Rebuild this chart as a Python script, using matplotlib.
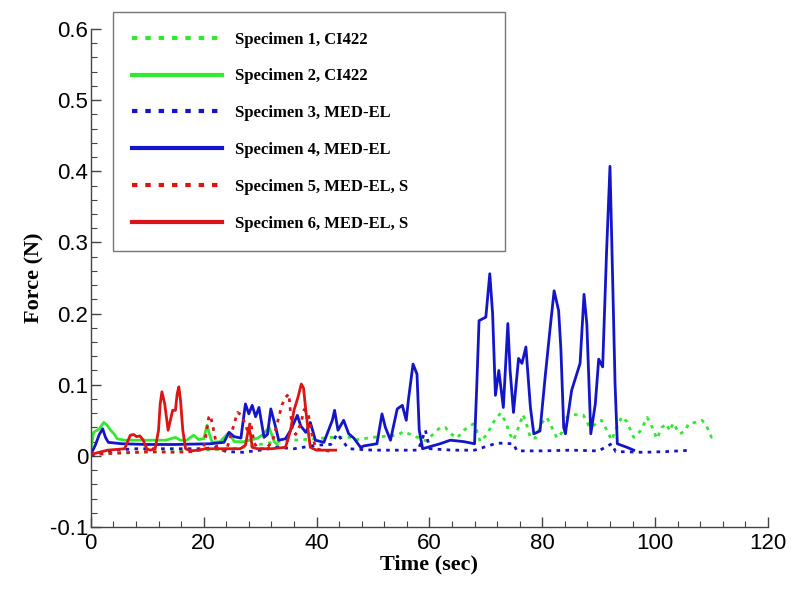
import matplotlib
matplotlib.use("Agg")
import matplotlib.pyplot as plt
from matplotlib.ticker import MultipleLocator

# Specimen 1, CI422 (green dotted)
t1 = [0, 5, 10, 15, 20, 25, 28, 30, 33, 36, 40, 42.5, 46, 46.6, 50, 54.3, 55.4, 57.6,
      59.4, 60.6, 61.9, 62.8, 64, 64.9, 66.1, 67.8, 68.4, 69, 70.2, 71.4, 72.6, 73.5,
      74.3, 74.9, 75.8, 76.6, 77.3, 77.9, 78.8, 80, 80.8, 81.7, 82.6, 83.5, 84.4, 85.5,
      87.3, 88.4, 89.6, 90.5, 91.3, 92.3, 93.1, 94.1, 95, 96.2, 97.4, 98.6, 99.5, 100.3,
      101.2, 102, 102.6, 103.2, 103.8, 104.4, 105.3, 105.9, 107.1, 108.3, 108.9, 109.5,
      110, 111]
f1 = [0.002, 0.004, 0.005, 0.006, 0.008, 0.01, 0.013, 0.016, 0.02, 0.022, 0.024, 0.026,
      0.026, 0.022, 0.026, 0.029, 0.034, 0.027, 0.021, 0.03, 0.04, 0.04, 0.03, 0.025,
      0.036, 0.045, 0.035, 0.02, 0.03, 0.048, 0.06, 0.048, 0.03, 0.022, 0.04, 0.058,
      0.042, 0.025, 0.025, 0.047, 0.054, 0.04, 0.025, 0.033, 0.055, 0.058, 0.057, 0.04,
      0.045, 0.05, 0.038, 0.022, 0.038, 0.055, 0.048, 0.026, 0.035, 0.054, 0.04, 0.024,
      0.04, 0.045, 0.035, 0.046, 0.038, 0.031, 0.035, 0.045, 0.047, 0.05, 0.045, 0.035,
      0.026, 0.028]

# Specimen 2, CI422 (green solid)
t2 = [0, 0.5, 1.5, 2.3, 2.9, 3.5, 4.1, 4.7, 6, 8, 10, 13.3, 15, 15.9, 17, 18.2, 19.1,
      20, 20.6, 21, 21.5, 22.9, 24.5, 25.4, 27.2, 29.6, 30.5, 31.6, 32.5, 33.1]
f2 = [0.008, 0.033, 0.038, 0.047, 0.043, 0.036, 0.031, 0.024, 0.022, 0.022, 0.022,
      0.022, 0.026, 0.022, 0.022, 0.029, 0.023, 0.024, 0.043, 0.031, 0.019, 0.02, 0.033,
      0.02, 0.02, 0.025, 0.03, 0.04, 0.02, 0.015]

# Specimen 3, MED-EL (blue dotted)
t3 = [0, 2, 4, 8, 12, 16, 20, 22, 24, 27, 30, 33, 36, 40, 42.5, 43.7, 44.5, 45.7, 50,
      55, 58, 59.3, 59.7, 60.1, 64, 68, 72, 74.9, 75.5, 80, 85, 90, 92.3, 93, 98, 102,
      106.5]
f3 = [0, 0.005, 0.008, 0.01, 0.01, 0.01, 0.01, 0.012, 0.006, 0.005, 0.008, 0.012, 0.01,
      0.015, 0.016, 0.031, 0.022, 0.01, 0.008, 0.008, 0.008, 0.036, 0.022, 0.01, 0.008,
      0.008, 0.018, 0.017, 0.007, 0.007, 0.008, 0.007, 0.017, 0.006, 0.005, 0.006, 0.008]

# Specimen 4, MED-EL (blue solid)
t4 = [0, 0.8, 1.5, 2.1, 2.6, 3.1, 5.5, 10, 15, 21.2, 23.6, 24.5, 25.4, 26.6, 27.4, 28.0,
      28.6, 29.2, 29.8, 30.7, 31.3, 31.9, 32.6, 33.3, 34.5, 35.4, 36.6, 37.2, 38.1, 38.9,
      39.8, 41.3, 42.8, 43.2, 43.8, 44.8, 45.7, 46.6, 47.8, 48.4, 50.7, 51.6, 52.2, 53.1,
      54.3, 55.2, 55.9, 56.3, 57.1, 57.8, 58.2, 58.8, 60.1, 61.9, 63.7, 66.1, 68.0, 68.4,
      68.8, 70, 70.7, 71.2, 71.7, 72.3, 73.1, 73.9, 74.3, 74.9, 75.8, 76.4, 77.1, 77.9,
      78.5, 79.6, 80.5, 81.4, 82.1, 82.9, 83.3, 83.8, 84.1, 85.2, 86.7, 87.4, 87.9, 88.6,
      89.4, 90.0, 90.7, 91.4, 92.0, 92.3, 92.9, 93.3, 95.0, 96.2]
f4 = [0.002, 0.015, 0.03, 0.038, 0.026, 0.019, 0.017, 0.016, 0.016, 0.017, 0.019, 0.033,
      0.027, 0.025, 0.073, 0.059, 0.071, 0.055, 0.068, 0.026, 0.03, 0.066, 0.045, 0.022,
      0.024, 0.036, 0.057, 0.042, 0.033, 0.047, 0.022, 0.019, 0.05, 0.064, 0.036, 0.05,
      0.031, 0.025, 0.012, 0.014, 0.017, 0.059, 0.04, 0.022, 0.066, 0.071, 0.05, 0.08,
      0.129, 0.115, 0.036, 0.01, 0.013, 0.017, 0.022, 0.02, 0.017, 0.1, 0.19, 0.195,
      0.256, 0.2, 0.085, 0.12, 0.068, 0.186, 0.12, 0.061, 0.137, 0.13, 0.153, 0.068,
      0.031, 0.035, 0.11, 0.18, 0.232, 0.204, 0.15, 0.04, 0.031, 0.092, 0.13, 0.227,
      0.185, 0.031, 0.073, 0.136, 0.125, 0.288, 0.407, 0.307, 0.101, 0.017, 0.012, 0.008]

# Specimen 5, MED-EL, S (red dotted)
t5 = [0, 5, 10, 15, 18, 20, 20.9, 21.2, 21.8, 22.4, 24, 25.4, 26, 26.6, 27.2, 27.8,
      28.3, 28.9, 29.5, 31, 32.2, 33.3, 33.9, 34.5, 35.1, 35.4, 35.7, 36.3, 37.2, 37.8,
      38.5, 39.2, 39.9, 41, 43]
f5 = [0.002, 0.004, 0.006, 0.005, 0.006, 0.01, 0.054, 0.057, 0.035, 0.01, 0.007, 0.045,
      0.061, 0.058, 0.048, 0.035, 0.048, 0.02, 0.01, 0.01, 0.02, 0.054, 0.072, 0.082,
      0.087, 0.06, 0.038, 0.03, 0.045, 0.065, 0.06, 0.03, 0.01, 0.008, 0.006]

# Specimen 6, MED-EL, S (red solid)
t6 = [0, 3, 6, 7, 7.6, 8.1, 8.7, 9.3, 9.9, 10.5, 11.4, 12.0, 12.3, 12.6, 13.1, 13.7,
      14.1, 14.5, 15.0, 15.3, 15.6, 15.9, 16.3, 16.8, 17.7, 19.1, 20.3, 22.5, 26.5, 27.4,
      28, 28.3, 28.6, 29.5, 32, 34.5, 35.4, 36, 36.7, 37.3, 37.7, 38.1, 38.6, 38.9, 40,
      41.7, 43.4]
f6 = [0.002, 0.008, 0.01, 0.029, 0.03, 0.027, 0.028, 0.022, 0.01, 0.008, 0.01, 0.036,
      0.073, 0.09, 0.073, 0.036, 0.05, 0.064, 0.064, 0.087, 0.097, 0.078, 0.036, 0.01,
      0.007, 0.008, 0.01, 0.01, 0.01, 0.015, 0.04, 0.03, 0.012, 0.01, 0.01, 0.012, 0.036,
      0.064, 0.082, 0.101, 0.095, 0.064, 0.03, 0.012, 0.008, 0.008, 0.008]

labels = ["Specimen 1, CI422", "Specimen 2, CI422", "Specimen 3, MED-EL",
          "Specimen 4, MED-EL", "Specimen 5, MED-EL, S", "Specimen 6, MED-EL, S"]

green = "#33e833"
blue = "#1414c8"
red = "#dc1414"
dot = (0, (1.3, 1.9))

fig = plt.figure(figsize=(8, 5.94), dpi=100)
ax = fig.add_axes([0.1135, 0.1128, 0.8465, 0.8384])

series = [
    (t1, f1, green, dot),
    (t2, f2, green, "-"),
    (t3, f3, blue, dot),
    (t4, f4, blue, "-"),
    (t5, f5, red, dot),
    (t6, f6, red, "-"),
]
for (t, f, c, ls), lab in zip(series, labels):
    ax.plot(t, f, color=c, linestyle=ls, linewidth=2.0, label=lab)

ax.set_xlim(0, 120)
ax.set_ylim(-0.1, 0.6)
ax.xaxis.set_major_locator(MultipleLocator(20))
ax.xaxis.set_minor_locator(MultipleLocator(4))
ax.yaxis.set_major_locator(MultipleLocator(0.1))
ax.yaxis.set_minor_locator(MultipleLocator(0.02))
ax.yaxis.set_major_formatter(plt.FuncFormatter(lambda v, p: "0" if abs(v) < 1e-9 else f"{v:.1f}"))

for s in ["top", "right"]:
    ax.spines[s].set_visible(False)
for s in ["left", "bottom"]:
    ax.spines[s].set_color("#444444")
    ax.spines[s].set_linewidth(1.0)

ax.tick_params(which="both", direction="in", colors="#444444", labelcolor="black")
ax.tick_params(which="major", length=7, width=1.0, labelsize=16, pad=2)
ax.tick_params(axis="x", which="major", pad=4)
ax.tick_params(which="minor", length=4, width=0.8)
for lbl in ax.get_xticklabels() + ax.get_yticklabels():
    lbl.set_fontfamily("Liberation Sans")

ax.set_xlabel("Time (sec)", fontfamily="Liberation Serif", fontweight="bold",
              fontsize=16, labelpad=1)
ax.set_ylabel("Force (N)", fontfamily="Liberation Serif", fontweight="bold",
              fontsize=16, labelpad=4)

leg = ax.legend(loc="upper left", bbox_to_anchor=(0.141, 0.979, 0.49, 0.0),
                bbox_transform=fig.transFigure, mode="expand",
                prop={"family": "Liberation Serif", "weight": "bold", "size": 12},
                handlelength=5.4, handletextpad=0.8, labelspacing=1.25,
                borderpad=1.15, borderaxespad=0, fancybox=False, frameon=True)
leg.get_frame().set_edgecolor("#555555")
leg.get_frame().set_linewidth(1.0)
for h in leg.get_lines():
    h.set_linewidth(3.0)

fig.savefig("out.png", dpi=100)
